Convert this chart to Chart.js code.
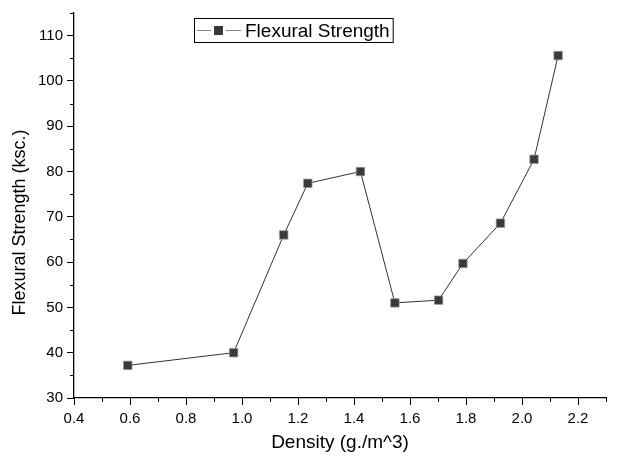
<!DOCTYPE html>
<html>
<head>
<meta charset="utf-8">
<script src="https://cdn.jsdelivr.net/npm/chart.js@4.4.0/dist/chart.umd.min.js"></script>
<style>
  html, body { margin: 0; padding: 0; background: #fff; }
  #wrap { width: 621px; height: 462px; }
</style>
</head>
<body>
<div id="wrap"><canvas id="chart"></canvas></div>
<script>
  // data
  const density = [0.592, 0.970, 1.149, 1.235, 1.423, 1.546, 1.702, 1.789, 1.923, 2.043, 2.129];
  const strength = [37.2, 40.0, 66.0, 77.4, 80.0, 51.0, 51.6, 59.7, 68.6, 82.7, 105.6];
  const seriesLabel = "Flexural Strength";
  const xTitle = "Density (g./m^3)";
  const yTitle = "Flexural Strength (ksc.)";

  const FONT = "'Liberation Sans', Arial, sans-serif";

  // short minor ticks, drawn through the scales
  const minorTicks = {
    id: "minorTicks",
    afterDraw(chart) {
      const ctx = chart.ctx;
      const xs = chart.scales.x, ys = chart.scales.y;
      ctx.save();
      ctx.strokeStyle = "#000";
      ctx.lineWidth = 1;
      xs.ticks.forEach(t => {
        if (Math.round(t.value * 10) % 2 === 0) return;
        const px = Math.round(xs.getPixelForValue(t.value)) + 0.5;
        ctx.beginPath();
        ctx.moveTo(px, ys.bottom);
        ctx.lineTo(px, ys.bottom + 4);
        ctx.stroke();
      });
      ys.ticks.forEach(t => {
        if (Math.round(t.value) % 10 === 0) return;
        const py = Math.round(ys.getPixelForValue(t.value)) + 0.5;
        ctx.beginPath();
        ctx.moveTo(xs.left, py);
        ctx.lineTo(xs.left - 4, py);
        ctx.stroke();
      });
      ctx.restore();
    }
  };

  // y title, a bit lower than the plot centre like the original
  const yTitlePlugin = {
    id: "yTitlePlugin",
    afterDraw(chart) {
      const ctx = chart.ctx;
      const ys = chart.scales.y;
      ctx.save();
      ctx.translate(25, (ys.top + ys.bottom) / 2 + 17);
      ctx.rotate(-Math.PI / 2);
      ctx.font = "18px " + FONT;
      ctx.fillStyle = "#000";
      ctx.textAlign = "center";
      ctx.textBaseline = "alphabetic";
      ctx.fillText(yTitle, 0, 0);
      ctx.restore();
    }
  };

  // boxed legend inside the plot
  const boxLegend = {
    id: "boxLegend",
    afterDraw(chart) {
      const ctx = chart.ctx;
      const ds = chart.data.datasets[0];
      const left = chart.chartArea.left + 120, top = chart.chartArea.top + 5;
      ctx.save();
      ctx.font = "19px " + FONT;
      const tw = ctx.measureText(ds.label).width;
      const w = 52 + tw + 2, h = 24;
      ctx.fillStyle = "#fff";
      ctx.fillRect(left, top, w, h);
      ctx.strokeStyle = "#000";
      ctx.lineWidth = 1;
      ctx.strokeRect(left + 0.5, top + 0.5, w, h);
      const cy = top + h / 2 + 0.5;
      ctx.strokeStyle = "#888";
      ctx.beginPath();
      ctx.moveTo(left + 3, cy);
      ctx.lineTo(left + 17, cy);
      ctx.moveTo(left + 32, cy);
      ctx.lineTo(left + 47, cy);
      ctx.stroke();
      ctx.fillStyle = ds.pointBackgroundColor;
      ctx.fillRect(left + 20, cy - 4.5, 9, 9);
      ctx.fillStyle = "#000";
      ctx.textBaseline = "middle";
      ctx.fillText(ds.label, left + 51, cy + 1);
      ctx.restore();
    }
  };

  new Chart(document.getElementById("chart"), {
    type: "line",
    data: {
      datasets: [{
        label: seriesLabel,
        data: density.map((d, i) => ({ x: d, y: strength[i] })),
        borderColor: "#333",
        borderWidth: 1,
        pointStyle: "rect",
        pointRadius: 6,
        pointBackgroundColor: "#3a3a3a",
        pointBorderColor: "#9a9a9a",
        pointBorderWidth: 0.7,
        tension: 0
      }]
    },
    options: {
      responsive: true,
      maintainAspectRatio: false,
      animation: false,
      layout: { padding: { left: 0, right: 15, top: 12, bottom: 0 } },
      plugins: { legend: { display: false }, tooltip: { enabled: false } },
      scales: {
        x: {
          type: "linear",
          min: 0.4,
          max: 2.3,
          afterFit(s) { s.height = 64; },
          border: { display: true, color: "#000", width: 1.3 },
          grid: { drawOnChartArea: false, drawTicks: true, tickLength: 7, color: "#000",
                  tickColor: c => (Math.round(c.tick.value * 10) % 2 === 0 ? "#000" : "rgba(0,0,0,0)") },
          ticks: {
            stepSize: 0.1,
            padding: 5,
            color: "#000",
            font: { family: FONT, size: 15 },
            maxRotation: 0,
            autoSkip: false,
            callback: v => (Math.round(v * 10) % 2 === 0 ? v.toFixed(1) : "")
          },
          title: { display: true, text: xTitle, color: "#000", font: { family: FONT, size: 19 }, padding: { top: 4, bottom: 8 } }
        },
        y: {
          type: "linear",
          min: 30,
          max: 115,
          afterFit(s) { s.width = 74; },
          border: { display: true, color: "#000", width: 1.3 },
          grid: { drawOnChartArea: false, drawTicks: true, tickLength: 7, color: "#000",
                  tickColor: c => (Math.round(c.tick.value) % 10 === 0 ? "#000" : "rgba(0,0,0,0)") },
          ticks: {
            stepSize: 5,
            padding: 4,
            color: "#000",
            font: { family: FONT, size: 15 },
            autoSkip: false,
            callback: v => (Math.round(v) % 10 === 0 ? String(v) : "")
          },
          title: { display: false }
        }
      }
    },
    plugins: [minorTicks, yTitlePlugin, boxLegend]
  });
</script>
</body>
</html>
